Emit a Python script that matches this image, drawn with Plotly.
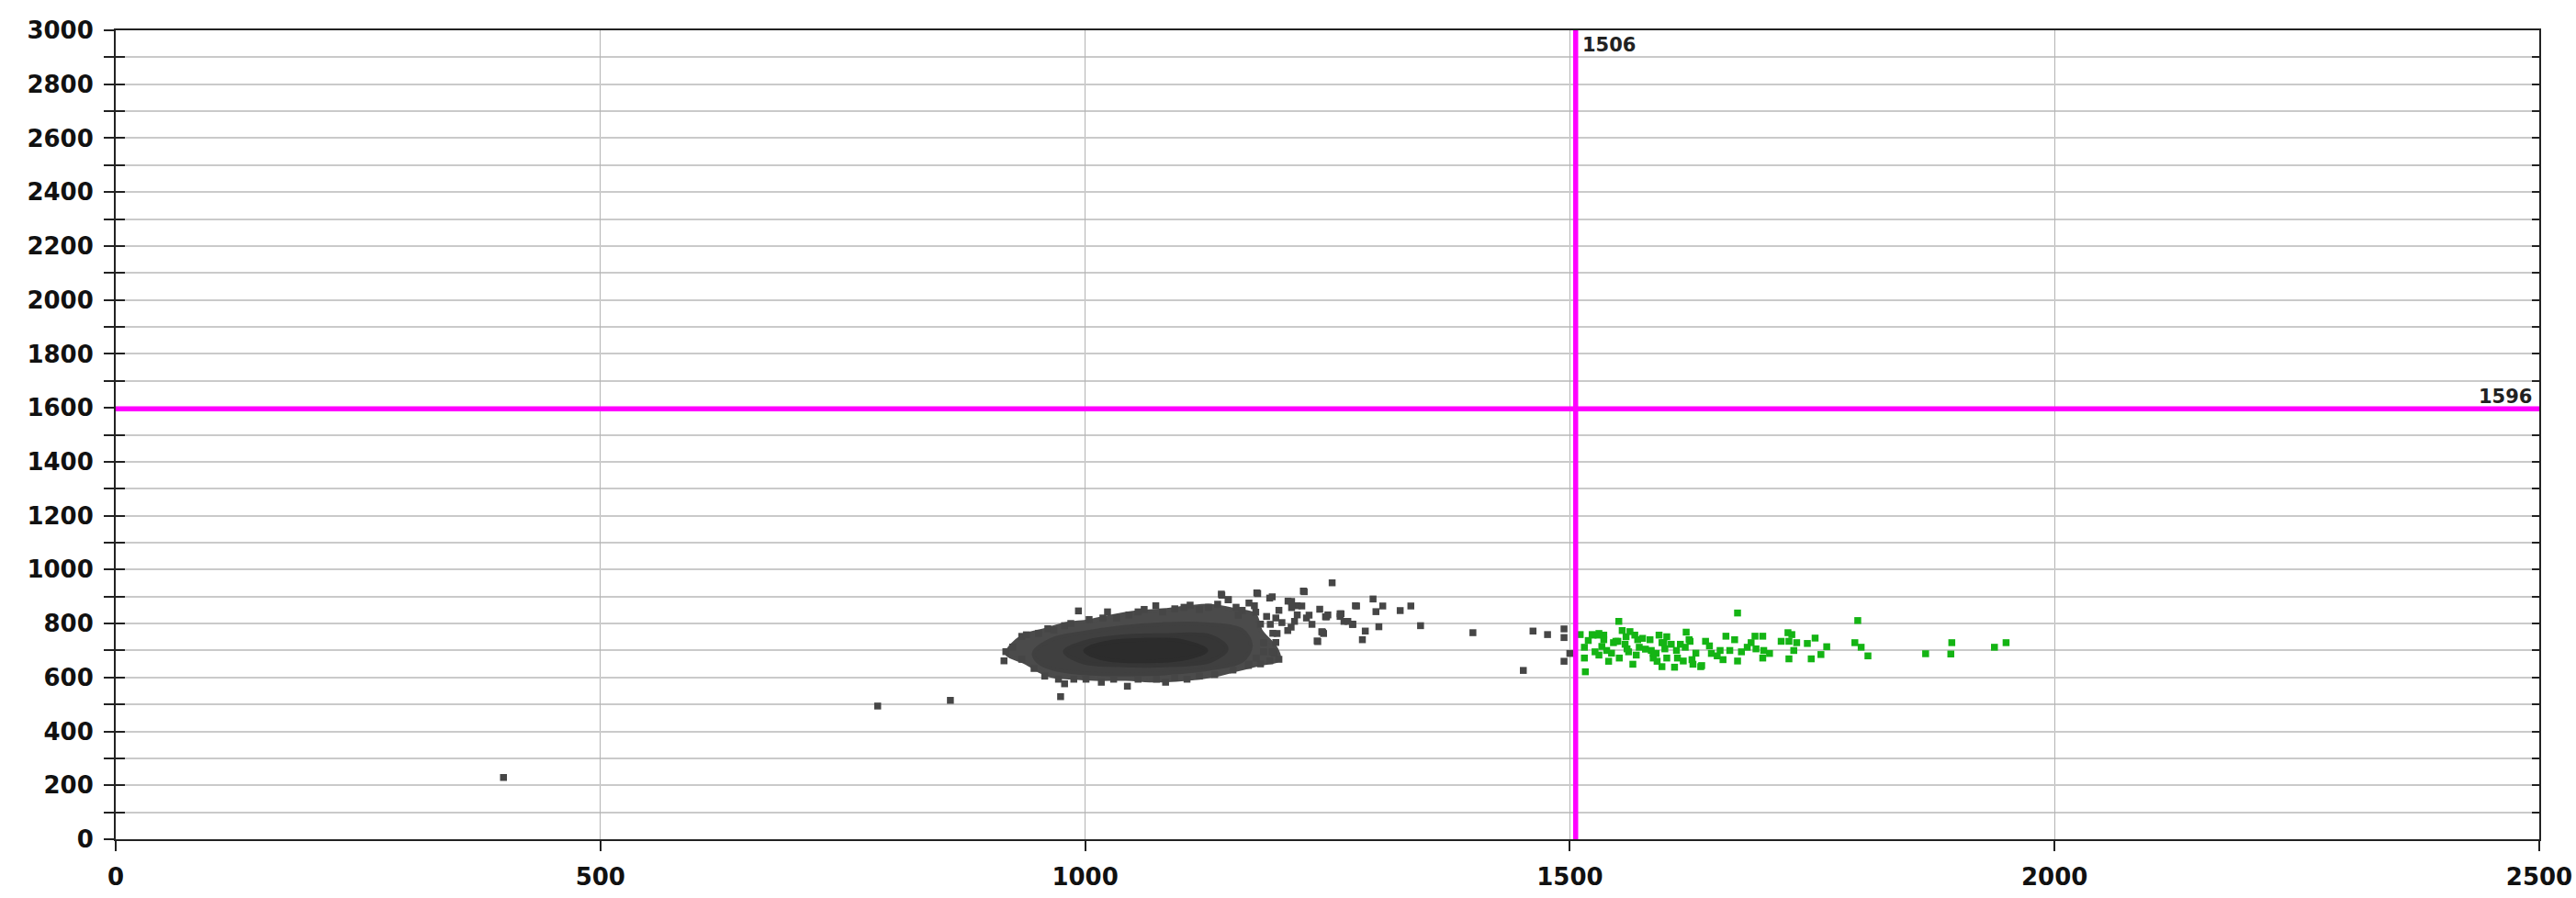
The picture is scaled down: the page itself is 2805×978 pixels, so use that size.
import plotly.graph_objects as go

# Gate thresholds
gate_x = 1506
gate_y = 1596

# Dense population core, drawn as nested density contours (outer -> inner)
core_outer_x = [919, 935, 957, 979, 1004, 1026, 1055, 1080, 1105, 1130, 1156, 1175, 1181, 1197, 1200,
                1181, 1156, 1130, 1105, 1074, 1042, 1010, 985, 966, 954, 938, 922]
core_outer_y = [690, 752, 775, 798, 809, 826, 843, 849, 860, 866, 849, 832, 775, 707, 667,
                650, 628, 605, 594, 588, 594, 594, 599, 605, 622, 656, 679]
core_mid_x = [947, 966, 995, 1036, 1080, 1124, 1162, 1171, 1162, 1130, 1086, 1036, 995, 966, 952]
core_mid_y = [690, 741, 764, 786, 798, 798, 775, 718, 662, 633, 616, 611, 616, 633, 656]
core_inner_x = [979, 998, 1036, 1086, 1130, 1146, 1130, 1086, 1036, 998]
core_inner_y = [696, 730, 752, 758, 752, 707, 662, 645, 645, 656]
core_dense_x = [1000, 1020, 1060, 1100, 1125, 1100, 1060, 1020]
core_dense_y = [700, 728, 740, 735, 700, 668, 660, 668]

# Individual events outside the gate (grey)
gray_x = [934.6, 939.4, 952.0, 961.5, 967.8, 978.8, 985.2, 993.1, 1004.1, 1018.3, 1023.1, 1032.5,
          1045.2, 1054.6, 1060.9, 1072.9, 1079.9, 1092.5, 1102.0, 1108.3, 1117.8, 1127.3, 1136.7,
          1140.5, 1147.8, 1155.7, 1162.0, 1177.1, 1190.4, 1209.3, 1225.1, 1218.8, 1199.9, 1196.7,
          1228.3, 1212.5, 1193.6, 1239.3, 1244.1, 1250.4, 1263.0, 1275.7, 1278.8, 1180.9, 1187.2,
          1174.6, 1203.0, 1218.8,
          916.3, 918.2, 925.2, 934.6, 947.3, 958.3, 972.5, 978.8, 974.7, 988.3, 1000.9, 1016.7,
          1029.4, 1043.6, 1054.6, 1073.6, 1083.0, 1092.5, 1105.1, 1117.8, 1133.6, 1152.5, 1168.3,
          1180.9, 1190.4, 1199.9, 1195.1, 1196.7,
          1254.8, 1226, 1297, 1280, 1307, 1300, 1325, 1336, 1346, 1303, 1289, 1286, 1240, 1264,
          1267, 1276, 1248, 1246, 1400, 1462, 1477, 1494, 1494, 1500, 1494, 1452, 1245,
          1141, 1147.5, 1178, 1193, 1213, 1213, 1223.5, 1231, 1242, 1249, 1263, 1271, 1276, 1191,
          1198, 1209, 1216, 1234, 1176, 1158, 1169, 1184, 1193, 1184, 1176.5, 1169,
          400, 786, 861]
gray_y = [752.4, 758.1, 763.8, 780.8, 775.1, 792.2, 800.1, 846.7, 814.9, 820.5, 843.2, 820.5,
          831.9, 843.2, 852.3, 865.9, 843.2, 854.6, 860.3, 868.2, 852.3, 860.3, 871.6,
          909.1, 888.6, 860.3, 848.9, 913.6, 894.3, 883.0, 920.4, 865.9, 848.9, 820.5,
          820.5, 786.5, 763.8, 735.4, 769.5, 831.9, 826.2, 797.8, 865.9, 797.8, 826.2,
          865.9, 803.5, 831.9,
          661.6, 695.7, 712.7, 667.3, 633.3, 604.9, 593.5, 576.5, 528.8, 593.5, 593.5, 582.2,
          593.5, 567.4, 593.5, 593.5, 582.2, 599.2, 593.5, 604.9, 610.6, 627.6, 644.6,
          650.3, 661.6, 667.3, 690.0, 729.7,
          951, 918, 891, 865, 865, 844, 848, 865, 792, 788, 772, 740, 733, 836,
          808, 797, 825, 763, 766, 772, 759, 780, 748, 689, 660, 626, 768,
          905, 888, 911, 899, 882, 859, 865, 831, 853, 825, 836, 808, 797, 797,
          763, 774, 808, 797, 842, 831, 876, 729, 695, 695, 672, 649,
          229, 494, 515]

# Events inside the gate (green)
green_x = [1510.7, 1515, 1515, 1516, 1523, 1529, 1535, 1526, 1530, 1538, 1540, 1545, 1550.5, 1554,
           1549.5, 1551, 1557, 1560.6, 1567, 1570, 1568.5, 1565, 1571.6, 1582.7, 1584, 1586, 1589,
           1592, 1595, 1600, 1595, 1600, 1598, 1608, 1611, 1614, 1619, 1620, 1624, 1617, 1627,
           1635, 1640, 1644, 1646, 1655, 1658, 1661, 1670, 1673, 1673, 1677, 1687, 1691, 1699,
           1692, 1700, 1699, 1706, 1718, 1725, 1729, 1726, 1734, 1731, 1726, 1745, 1753, 1749,
           1759, 1765, 1797, 1794, 1800.5, 1807.5, 1867, 1894, 1893, 1938, 1950,
           1524, 1530, 1535, 1547.5, 1558, 1559, 1586, 1597, 1604.6, 1623, 1626, 1636, 1575,
           1578, 1590, 1562, 1543, 1533, 1519, 1610, 1630, 1652, 1665, 1683]
green_y = [759, 712, 672, 621, 759, 757, 757, 695, 683, 700, 660, 729, 808, 774,
           734, 672, 723, 695, 757, 740, 683, 649, 712, 740, 700, 672, 689,
           757, 729, 751, 640, 672, 706, 638, 672, 723, 712, 768, 734, 661, 649,
           640, 734, 717, 689, 700, 666, 753, 740, 839, 661, 695, 729, 753, 753,
           706, 700, 672, 689, 734, 766, 759, 734, 729, 700, 669, 726, 746, 669,
           685, 714, 811, 729, 712, 680, 688, 729, 687, 712, 729,
           757, 763, 740, 734, 751, 706, 689, 729, 723, 740, 666, 644, 745,
           705, 660, 770, 690, 715, 737, 700, 690, 680, 700, 712]

x_ticks = [0, 500, 1000, 1500, 2000, 2500]

fig = go.Figure()


def closed(seq):
    return list(seq) + [seq[0]]


for xs, ys, col in [(core_outer_x, core_outer_y, "#4b4b4b"),
                    (core_mid_x, core_mid_y, "#404040"),
                    (core_inner_x, core_inner_y, "#363636"),
                    (core_dense_x, core_dense_y, "#2c2c2c")]:
    fig.add_trace(go.Scatter(x=closed(xs), y=closed(ys), mode="lines", fill="toself",
                             fillcolor=col, line=dict(color=col, width=4, shape="spline"),
                             hoverinfo="skip"))

fig.add_trace(go.Scatter(x=gray_x, y=gray_y, mode="markers",
                         marker=dict(symbol="square", size=7.5, color="#464646",
                                     line=dict(width=0))))
fig.add_trace(go.Scatter(x=green_x, y=green_y, mode="markers",
                         marker=dict(symbol="square", size=7.5, color="#14b414",
                                     line=dict(width=0))))

# invisible helpers so the extra tick axes are drawn
fig.add_trace(go.Scatter(x=[0], y=[0], yaxis="y2", mode="markers",
                         marker=dict(opacity=0), hoverinfo="skip"))
fig.add_trace(go.Scatter(x=[0], y=[0], yaxis="y3", mode="markers",
                         marker=dict(opacity=0), hoverinfo="skip"))

# gate lines
fig.add_shape(type="line", x0=gate_x, x1=gate_x, y0=0, y1=1, xref="x", yref="paper",
              line=dict(color="#ff00ff", width=5.5))
fig.add_shape(type="line", x0=0, x1=1, y0=gate_y, y1=gate_y, xref="paper", yref="y",
              line=dict(color="#ff00ff", width=5.5))

label_font = dict(family="DejaVu Sans", size=21, color="#222222", weight="bold")
fig.add_annotation(x=gate_x, y=1, xref="x", yref="paper", text=str(gate_x),
                   showarrow=False, xanchor="left", yanchor="top", xshift=5, yshift=-2,
                   font=label_font)
fig.add_annotation(x=1, y=gate_y, xref="paper", yref="y", text=str(gate_y),
                   showarrow=False, xanchor="right", yanchor="bottom", xshift=-6, yshift=-1,
                   font=label_font)

tick_font = dict(family="DejaVu Sans", size=26, color="#111111", weight="bold")
axis_col = "#222222"

fig.update_layout(
    width=2805, height=978,
    margin=dict(l=126, r=40, t=33, b=64, autoexpand=False),
    plot_bgcolor="white", paper_bgcolor="white",
    showlegend=False,
    xaxis=dict(range=[0, 2500], tickvals=x_ticks, ticks="outside", ticklen=11,
               tickwidth=2, tickcolor=axis_col, showline=True, linewidth=2,
               linecolor=axis_col, mirror=True, showgrid=True, gridcolor="#b4b4b4",
               gridwidth=1, zeroline=False, tickfont=tick_font, ticklabelstandoff=6,
               automargin=False),
    yaxis=dict(range=[0, 3000], tick0=0, dtick=200, ticks="outside", ticklen=11,
               tickwidth=2, tickcolor=axis_col, showline=True, linewidth=2,
               linecolor=axis_col, mirror=True, showgrid=True, gridcolor="#cacaca",
               gridwidth=1.5, zeroline=False, tickfont=tick_font, ticklabelstandoff=6,
               automargin=False,
               minor=dict(dtick=100, ticks="outside", ticklen=11, tickwidth=2,
                          tickcolor=axis_col, showgrid=True, gridcolor="#cacaca",
                          gridwidth=1.5)),
    yaxis2=dict(range=[0, 3000], overlaying="y", side="left", tick0=0, dtick=100,
                ticks="inside", ticklen=10, tickwidth=2, tickcolor=axis_col,
                showticklabels=False, showgrid=False, zeroline=False, showline=False,
                automargin=False),
    yaxis3=dict(range=[0, 3000], overlaying="y", side="right", tick0=0, dtick=100,
                ticks="inside", ticklen=8, tickwidth=2, tickcolor=axis_col,
                showticklabels=False, showgrid=False, zeroline=False, showline=False,
                automargin=False),
)

fig.write_html("out.html")
